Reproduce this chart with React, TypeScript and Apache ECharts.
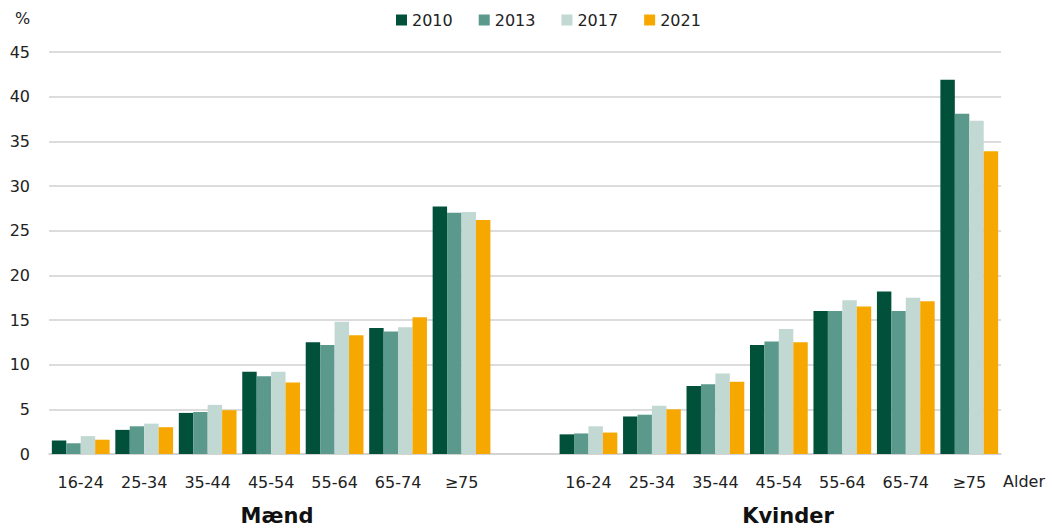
import React, { useEffect, useRef } from "react";
import * as echarts from "echarts";

const ageGroups = ["16-24", "25-34", "35-44", "45-54", "55-64", "65-74", "≥75"];
const years = ["2010", "2013", "2017", "2021"];
const colors = ["#00503a", "#5a998c", "#c1d8d3", "#f6a800"];

const maend2010 = [1.5, 2.7, 4.6, 9.2, 12.5, 14.1, 27.7];
const maend2013 = [1.2, 3.1, 4.7, 8.7, 12.2, 13.7, 27.0];
const maend2017 = [2.0, 3.4, 5.5, 9.2, 14.8, 14.2, 27.1];
const maend2021 = [1.6, 3.0, 4.9, 8.0, 13.3, 15.3, 26.2];

const kvinder2010 = [2.2, 4.2, 7.6, 12.2, 16.0, 18.2, 41.9];
const kvinder2013 = [2.3, 4.4, 7.8, 12.6, 16.0, 16.0, 38.1];
const kvinder2017 = [3.1, 5.4, 9.0, 14.0, 17.2, 17.5, 37.3];
const kvinder2021 = [2.4, 5.0, 8.1, 12.5, 16.5, 17.1, 33.9];

const yTicks = [0, 5, 10, 15, 20, 25, 30, 35, 40, 45];

export default function App() {
  const ref = useRef<HTMLDivElement>(null);
  useEffect(() => {
    if (!ref.current) return;
    const chart = echarts.init(ref.current, null, { renderer: "svg" });
    const categories = [...ageGroups, "", ...ageGroups];
    const maend = [maend2010, maend2013, maend2017, maend2021];
    const kvinder = [kvinder2010, kvinder2013, kvinder2017, kvinder2021];
    const font = "'DejaVu Sans', sans-serif";
    chart.setOption({
      animation: false,
      textStyle: { fontFamily: font },
      legend: {
        top: 7,
        left: 391,
        itemWidth: 11,
        itemHeight: 11,
        itemGap: 26,
        icon: "rect",
        textStyle: { fontSize: 16, color: "#222", fontFamily: font },
        data: years,
      },
      grid: { left: 49, right: 51, top: 52, bottom: 74 },
      xAxis: {
        type: "category",
        data: categories,
        axisLine: { lineStyle: { color: "#d0d0d0", width: 1.5 } },
        axisTick: { show: false },
        axisLabel: { color: "#222", fontSize: 16, margin: 20, interval: 0, fontFamily: font },
      },
      yAxis: {
        type: "value",
        min: yTicks[0],
        max: yTicks[yTicks.length - 1],
        interval: 5,
        axisLine: { show: false },
        axisTick: { show: false },
        splitLine: { lineStyle: { color: "#d0d0d0", width: 1.5 } },
        axisLabel: { color: "#222", fontSize: 16, margin: 19, fontFamily: font },
      },
      series: years.map((y, i) => ({
        name: y,
        type: "bar",
        barGap: "0%",
        barCategoryGap: "9%",
        itemStyle: { color: colors[i] },
        data: [...maend[i], null, ...kvinder[i]],
      })),
      graphic: [
        { type: "text", left: 15, top: 10, style: { text: "%", fontSize: 16, fill: "#222", fontFamily: font } },
        { type: "text", left: 1003, top: 473, style: { text: "Alder", fontSize: 16, fill: "#222", fontFamily: font } },
        { type: "text", x: 277, y: 516, style: { text: "Mænd", fontSize: 21, fontWeight: "bold", fill: "#111", fontFamily: font, align: "center", verticalAlign: "middle" } },
        { type: "text", x: 788, y: 516, style: { text: "Kvinder", fontSize: 21, fontWeight: "bold", fill: "#111", fontFamily: font, align: "center", verticalAlign: "middle" } },
      ],
    });
    return () => chart.dispose();
  }, []);
  return <div ref={ref} style={{ width: 1052, height: 528, position: "absolute", left: 0, top: 0 }} />;
}
